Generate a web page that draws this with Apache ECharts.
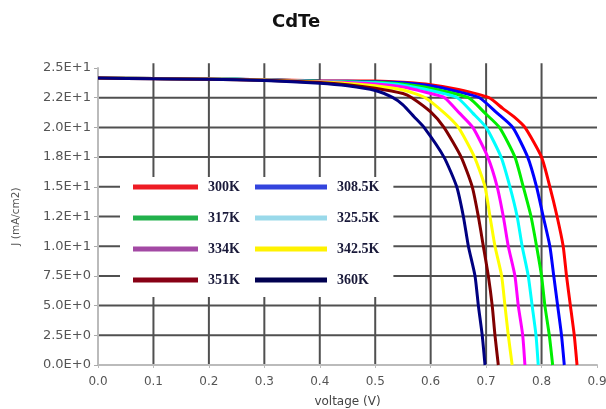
<!DOCTYPE html>
<html>
<head>
<meta charset="utf-8">
<script src="https://cdn.jsdelivr.net/npm/echarts@6/dist/echarts.min.js"></script>
<style>html,body{margin:0;padding:0;background:#fff}#chart{width:606px;height:409px}</style>
</head>
<body>
<div id="chart"></div>
<script>
// ---- data ----
const seriesNames = ['300K','308.5K','317K','325.5K','334K','342.5K','351K','360K'];
const xTickLabels = ['0.0','0.1','0.2','0.3','0.4','0.5','0.6','0.7','0.8','0.9'];
const yTickLabels = ['0.0E+0','2.5E+0','5.0E+0','7.5E+0','1.0E+1','1.2E+1','1.5E+1','1.8E+1','2.0E+1','2.2E+1','2.5E+1'];
const xGridValues = [0.1,0.2,0.3,0.4,0.5,0.6,0.7,0.8];
const yGridValues = [2.5,5,7.5,10,12.5,15,17.5,20,22.5];

const jv300 = [[0,24.15],[0.1,24.12],[0.2,24.08],[0.3,24.02],[0.4,23.92],[0.5,23.9],[0.55,23.8],[0.6,23.6],[0.65,23.2],[0.705,22.5],[0.73,21.6],[0.75,20.9],[0.77,20],[0.8,17.5],[0.815,15],[0.828,12.5],[0.839,10],[0.845,7.5],[0.852,5],[0.859,2.5],[0.864,0]];
const jv308 = [[0,24.15],[0.1,24.12],[0.2,24.08],[0.3,24.01],[0.4,23.9],[0.5,23.85],[0.55,23.75],[0.6,23.5],[0.65,23.0],[0.688,22.5],[0.72,21.2],[0.748,20],[0.775,17.5],[0.791,15],[0.803,12.5],[0.815,10],[0.822,7.5],[0.829,5],[0.836,2.5],[0.841,0]];
const jv317 = [[0,24.15],[0.1,24.12],[0.2,24.08],[0.3,24.0],[0.4,23.88],[0.5,23.8],[0.55,23.65],[0.6,23.3],[0.668,22.5],[0.698,21.2],[0.724,20],[0.752,17.5],[0.767,15],[0.781,12.5],[0.791,10],[0.8,7.5],[0.806,5],[0.814,2.5],[0.82,0]];
const jv325 = [[0,24.15],[0.1,24.12],[0.2,24.08],[0.3,24.0],[0.4,23.87],[0.5,23.75],[0.55,23.55],[0.6,23.1],[0.648,22.5],[0.676,21.2],[0.7,20],[0.727,17.5],[0.743,15],[0.756,12.5],[0.765,10],[0.776,7.5],[0.783,5],[0.79,2.5],[0.794,0]];
const jv334 = [[0,24.15],[0.1,24.11],[0.2,24.07],[0.3,23.99],[0.4,23.85],[0.45,23.77],[0.5,23.65],[0.55,23.4],[0.6,22.85],[0.625,22.5],[0.652,21.2],[0.676,20],[0.703,17.5],[0.72,15],[0.731,12.5],[0.74,10],[0.752,7.5],[0.758,5],[0.766,2.5],[0.77,0]];
const jv342 = [[0,24.15],[0.1,24.11],[0.2,24.07],[0.3,23.99],[0.4,23.82],[0.45,23.7],[0.5,23.5],[0.55,23.15],[0.59,22.5],[0.625,21.2],[0.65,20],[0.679,17.5],[0.698,15],[0.707,12.5],[0.716,10],[0.728,7.5],[0.734,5],[0.74,2.5],[0.747,0]];
const jv351 = [[0,24.15],[0.1,24.1],[0.2,24.06],[0.3,23.97],[0.4,23.78],[0.45,23.6],[0.5,23.3],[0.55,22.85],[0.566,22.5],[0.6,21.3],[0.624,20],[0.655,17.5],[0.675,15],[0.686,12.5],[0.695,10],[0.704,7.5],[0.711,5],[0.716,2.5],[0.722,0]];
const jv360 = [[0,24.15],[0.1,24.1],[0.2,24.05],[0.3,23.95],[0.4,23.72],[0.45,23.5],[0.5,23.1],[0.532,22.5],[0.55,21.9],[0.57,20.9],[0.588,20],[0.624,17.5],[0.647,15],[0.659,12.5],[0.668,10],[0.68,7.5],[0.686,5],[0.693,2.5],[0.698,0]];
const seriesData = [jv300, jv308, jv317, jv325, jv334, jv342, jv351, jv360];

// ---- styles ----
const curveColors = ['#ff0000','#0000ff','#00ee00','#00ffff','#ff00ff','#ffff00','#800000','#000080'];
const legendColors = ['#ee1c24','#3344dd','#22b14c','#99d9ea','#a349a4','#fff200','#880015','#000050'];
const X_MIN = 0, X_MAX = 0.9, Y_MIN = 0, Y_MAX = 25;

const chart = echarts.init(document.getElementById('chart'));
function legendItems(idx) {
  return idx.map(i => ({name: seriesNames[i], itemStyle: {color: legendColors[i]}}));
}
const legendText = {fontFamily: 'Liberation Serif', fontWeight: 'bold', fontSize: 14, color: '#1a1a3a', lineHeight: 16, padding: [0,0,0,5]};

// grid / axis lines as plain line series placed through the axes' scales
function refLine(points, color) {
  return {
    type: 'line', data: points, silent: true, symbol: 'none', showSymbol: false,
    animation: false, z: 1, clip: false, emphasis: {disabled: true},
    lineStyle: {color: color, width: 2, type: 'solid'}
  };
}
const gridSeries = [].concat(
  yGridValues.map(v => refLine([[X_MIN, v], [X_MAX, v]], '#505050')),
  xGridValues.map(v => refLine([[v, Y_MIN], [v, Y_MAX + 0.4]], '#505050')),
  [refLine([[X_MIN, Y_MIN], [X_MIN, Y_MAX]], '#bbbbbb'),
   refLine([[X_MIN, Y_MIN], [X_MAX, Y_MIN]], '#bbbbbb')]
);

const curveSeries = seriesData.map((d, i) => ({
  name: seriesNames[i], type: 'line', data: d, showSymbol: false, smooth: 0.2, z: 2,
  lineStyle: {color: curveColors[i], width: 3}, itemStyle: {color: curveColors[i]}
}));

chart.setOption({
  animation: false,
  backgroundColor: '#ffffff',
  title: {
    text: 'CdTe', left: 272, top: 13, padding: 0,
    textStyle: {fontFamily: 'DejaVu Sans', fontWeight: 'bold', fontSize: 18, color: '#111'}
  },
  grid: {left: 98, right: 9, top: 68, bottom: 44, outerBoundsMode: 'none', containLabel: false},
  legend: [
    {data: legendItems([0,2,4,6]), orient: 'vertical', left: 120, top: 177, padding: [2, 0, 9, 13],
     backgroundColor: '#ffffff', itemWidth: 65, itemHeight: 5, itemGap: 15, icon: 'rect',
     textStyle: legendText, selectedMode: false, z: 6},
    {data: legendItems([1,3,5,7]), orient: 'vertical', left: 228, top: 177, padding: [2, 14, 9, 27],
     backgroundColor: '#ffffff', itemWidth: 72, itemHeight: 5, itemGap: 15, icon: 'rect',
     textStyle: Object.assign({}, legendText, {padding: [0,0,0,5]}), selectedMode: false, z: 6}
  ],
  xAxis: [{
    type: 'value', min: X_MIN, max: X_MAX, interval: 0.1,
    name: 'voltage (V)', nameLocation: 'middle', nameGap: 31,
    nameTextStyle: {fontFamily: 'DejaVu Sans', fontSize: 12, color: '#444'},
    axisLine: {show: true, lineStyle: {color: '#bbbbbb', width: 2}},
    axisTick: {show: true, length: 3, lineStyle: {color: '#bbbbbb'}},
    axisLabel: {margin: 11, fontFamily: 'DejaVu Sans', fontSize: 12, color: '#555',
      formatter: v => xTickLabels[Math.round(v / 0.1)]},
    splitLine: {show: false}
  }, {
    type: 'value', position: 'top', min: X_MIN, max: X_MAX, interval: 0.1,
    axisLine: {show: false}, axisLabel: {show: false}, splitLine: {show: false}, axisTick: {show: false}
  }],
  yAxis: {
    type: 'value', min: Y_MIN, max: Y_MAX, interval: 2.5,
    name: 'J (mA/cm2)', nameLocation: 'middle', nameGap: 76,
    nameTextStyle: {fontFamily: 'DejaVu Sans', fontSize: 10.5, color: '#555'},
    axisLine: {show: true, lineStyle: {color: '#bbbbbb', width: 2}},
    axisTick: {show: true, length: 4, lineStyle: {color: '#aaaaaa'}},
    axisLabel: {margin: 7, fontFamily: 'DejaVu Sans', fontSize: 13, color: '#555',
      formatter: v => yTickLabels[Math.round(v / 2.5)]},
    splitLine: {show: false}
  },
  series: gridSeries.concat(curveSeries)
});
</script>
</body>
</html>
